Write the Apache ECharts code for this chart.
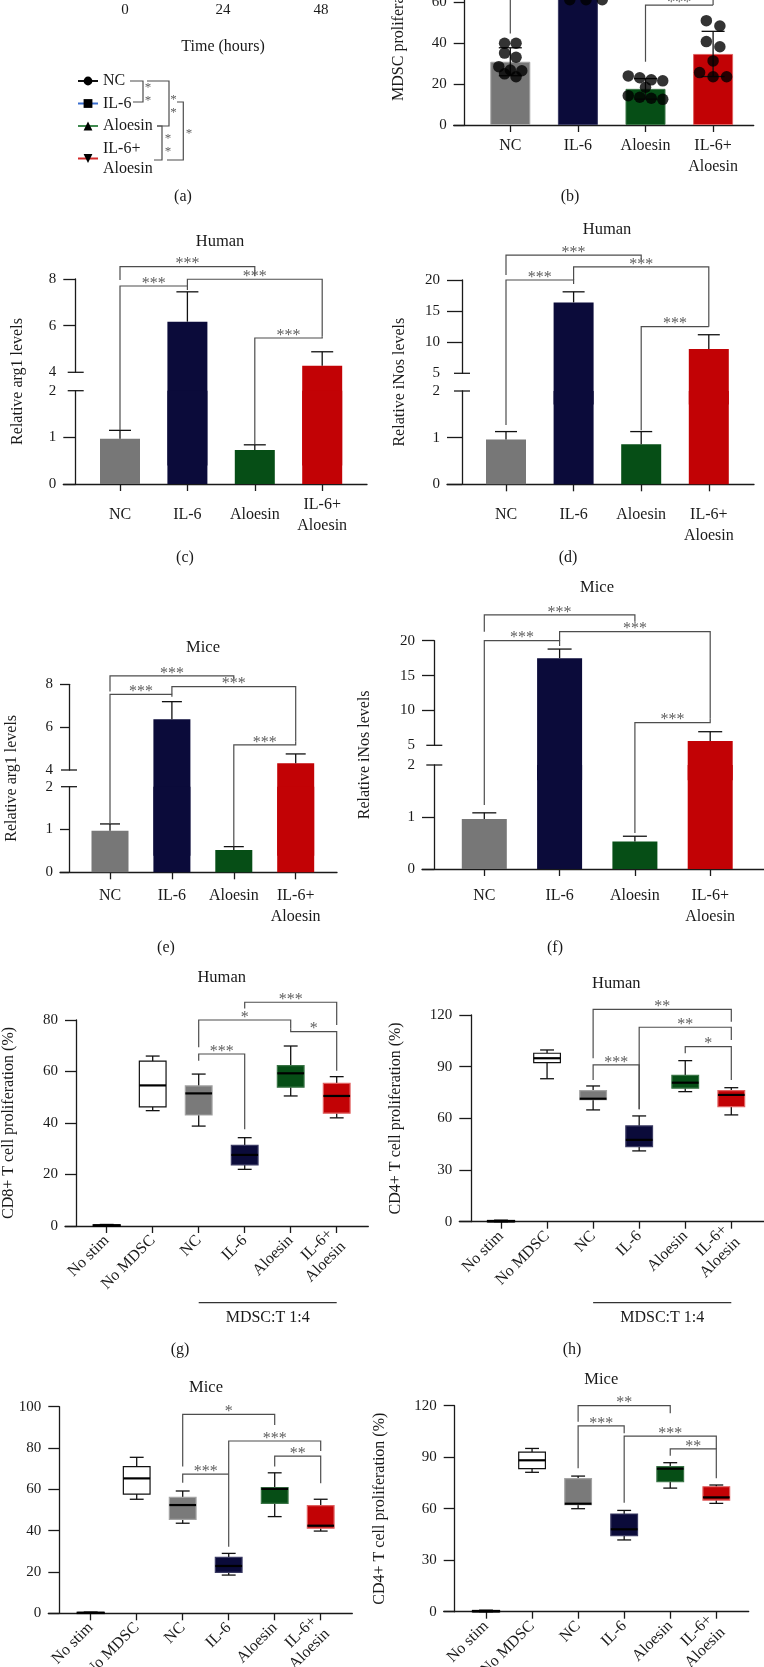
<!DOCTYPE html>
<html>
<head>
<meta charset="utf-8">
<title>Aloesin / IL-6 MDSC figure</title>
<script src="https://cdn.jsdelivr.net/npm/echarts@6.0.0/dist/echarts.min.js"></script>
<style>
html,body{margin:0;padding:0;background:#ffffff;overflow:hidden;}
#chart{width:764px;height:1667px;}
</style>
</head>
<body>
<div id="chart"></div>
<script>
// ================= DATA =================
const groups4 = ['NC', 'IL-6', 'Aloesin', 'IL-6+\nAloesin'];
const groups6 = ['No stim', 'No MDSC', 'NC', 'IL-6', 'Aloesin', 'IL-6+\nAloesin'];
const legendNames = ['NC', 'IL-6', 'Aloesin', 'IL-6+\nAloesin'];

// (a) time course (curves lie above the visible crop)
const timeTicks = [0, 24, 48];
const aNC = [0.20, 0.42, 0.78];
const aIL6 = [0.20, 0.95, 1.90];
const aAloesin = [0.20, 0.33, 0.52];
const aIL6Aloesin = [0.20, 0.60, 1.15];

// (b) MDSC proliferation (%)
const bTicks = [0, 20, 40, 60, 80, 100];
const bMean = [30.8, 72, 17.6, 34.6];
const bSD = [6.8, 9, 5, 11];
const bDotsNC = [39.8, 39.8, 35, 33, 28.4, 26.8, 26.4, 24.9, 23.5];
const bDotsIL6 = [61, 61, 61, 64, 68, 72, 76, 80, 84];
const bDotsAloesin = [23.9, 23, 22, 21.5, 18.4, 14.3, 13.5, 13, 12.5];
const bDotsIL6Aloesin = [50.8, 48.2, 40.6, 38.1, 31.2, 25.5, 23.5, 23.5];
// significance brackets: [from, to, top, left end, right end, label]
const bSig = [[2, 3, 58.4, 30.8, 58.4, '***'], [1, 3, 84, 82, 58.4, '***'], [0, 1, 95, 44.6, 92, '***']];

// (c) Human arg1
const cMean = [0.97, 6.17, 0.73, 4.28];
const cSD = [0.18, 1.28, 0.11, 0.60];
const cTicksLow = [0, 1, 2];
const cTicksHigh = [4, 6, 8];
const cSig = [[0, 2, 8.53, 7.96, 8.13, '***'], [0, 1, 7.70, 1.16, 7.53, '***'], [1, 3, 7.99, 7.70, 5.53, '***'], [2, 3, 5.47, 0.86, 5.53, '***']];

// (d) Human iNos
const dMean = [0.96, 16.4, 0.86, 8.9];
const dSD = [0.17, 1.7, 0.27, 2.3];
const dTicksLow = [0, 1, 2];
const dTicksHigh = [5, 10, 15, 20];
const dSig = [[0, 2, 24.0, 20.8, 23.2, '***'], [0, 1, 20.0, 1.27, 19.35, '***'], [1, 3, 22.1, 20.0, 12.5, '***'], [2, 3, 12.5, 1.16, 12.5, '***']];

// (e) Mice arg1
const eMean = [0.97, 6.37, 0.52, 4.31];
const eSD = [0.16, 0.82, 0.08, 0.44];
const eTicksLow = [0, 1, 2];
const eTicksHigh = [4, 6, 8];
const eSig = [[0, 2, 8.39, 7.66, 8.25, '***'], [0, 1, 7.53, 1.13, 7.42, '***'], [1, 3, 7.89, 7.53, 5.32, '***'], [2, 3, 5.17, 0.6, 5.32, '***']];

// (f) Mice iNos
const fMean = [0.96, 17.5, 0.53, 5.62];
const fSD = [0.12, 1.3, 0.10, 1.33];
const fTicksLow = [0, 1, 2];
const fTicksHigh = [5, 10, 15, 20];
const fSig = [[0, 2, 23.7, 21.3, 22.7, '***'], [0, 1, 20.0, 1.23, 19.24, '***'], [1, 3, 21.3, 20.0, 8.87, '***'], [2, 3, 8.24, 0.69, 8.87, '***']];

// box plots: [min, Q1, median, Q3, max]
const gTicks = [0, 20, 40, 60, 80];
const gBoxes = [[0, 0, 0.2, 0.4, 0.6], [44.8, 46.3, 54.6, 64, 66], [38.8, 43.1, 51.5, 54.4, 59], [22, 23.7, 27.6, 31.3, 34.3], [50.5, 53.9, 59.3, 62.3, 69.9], [42, 43.8, 50.5, 55.4, 58]];
const gSig = [[3, 5, 86.9, 84.5, 78.1, '***'], [2, 4, 80, 69.4, 76.8, '*'], [4, 5, 75.5, 76.8, 60.3, '*'], [2, 3, 66.8, 64.2, 37.6, '***']];

const hTicks = [0, 30, 60, 90, 120];
const hBoxes = [[0, 0, 0.3, 0.6, 0.9], [83, 92.3, 94.9, 97.8, 99.7], [64.9, 70.8, 71.4, 76.1, 78.8], [41.1, 43.6, 47.5, 55.6, 61.4], [75.5, 77.5, 80.7, 85, 93.5], [62, 66.8, 73.6, 76.1, 77.8]];
const hSig = [[2, 5, 123.3, 94.9, 116.1, '**'], [3, 5, 112.9, 65.3, 105.5, '**'], [4, 5, 101.6, 97.8, 82.3, '*'], [2, 3, 91, 82.3, 65.3, '***']];

const iTicks = [0, 20, 40, 60, 80, 100];
const iBoxes = [[0, 0, 0.2, 0.4, 0.6], [55.2, 57.7, 65.3, 71, 75.5], [43.6, 45.5, 52.4, 56.1, 59.2], [18.5, 19.8, 22.9, 27.1, 29], [46.8, 53.2, 60.2, 60.8, 68], [39.8, 41.2, 42.4, 52.1, 55.2]];
const iSig = [[2, 4, 96.3, 71, 91.1, '*'], [3, 5, 83.4, 32.2, 78.6, '***'], [4, 5, 76.1, 71, 62.9, '**'], [2, 3, 67.4, 63.2, 67.4, '***']];

const jTicks = [0, 30, 60, 90, 120];
const jBoxes = [[0, 0, 0.3, 0.6, 0.9], [81.2, 83.3, 88.2, 93, 95.1], [60, 62.3, 62.9, 77.5, 79], [41.8, 44.3, 48, 56.9, 59], [72, 75.7, 83.3, 84.5, 86.8], [63.1, 65, 66.6, 72.8, 73.8]];
const jSig = [[2, 4, 120, 110.7, 115.6, '**'], [2, 3, 108.2, 83.5, 103.9, '***'], [3, 5, 102.3, 63.5, 94.8, '***'], [4, 5, 94.8, 90.9, 77.7, '**']];

// ================= STYLE / LAYOUT =================
const FONT = '"Liberation Serif","Times New Roman",serif';
const AX = '#1a1a1a';
const TXT = '#1a1a1a';
const BRK = '#4d4d4d';
const STAR = '#5e5e5e';
const BAR_FILL = ['#777777', '#0b0b3a', '#064e16', '#c20205'];
const BAR_EDGE = ['#a3a3a3', '#3b3b63', '#3a7446', '#e06060'];
const BOX_FILL = ['#000000', '#ffffff', '#7a7a7a', '#0b0b3a', '#064e16', '#c20205'];
const BOX_EDGE = ['#000000', '#111111', '#a3a3a3', '#3b3b63', '#3a7446', '#e06060'];
const LINE_COL = ['#111111', '#3a6fd0', '#3f8a4f', '#d42a2a'];

const P = {
  b: {axStart: 453.7, yAx: 464.7, cat0: 510.3, step: 67.6, axEnd: 753.7, y0: 125, yTop: -80.4, barW: 40, cap: 23, lblMargin: 10},
  c: {axStart: 63.3, yAx: 75.7, cat0: 120, step: 67.4, axEnd: 367, lo: [484, 390.7], up: [372.3, 279], barW: 40, cap: 22, lblMargin: 31, lblMiddle: true},
  d: {axStart: 447, yAx: 462, cat0: 506, step: 67.6, axEnd: 754, lo: [484.3, 391], up: [373.3, 280], barW: 40, cap: 22, lblMargin: 20},
  e: {axStart: 60, yAx: 69, cat0: 110, step: 61.9, axEnd: 337, lo: [872.3, 786.7], up: [770, 684.3], barW: 37, cap: 20, lblMargin: 13},
  f: {axStart: 422, yAx: 434.3, cat0: 484.3, step: 75.3, axEnd: 770, lo: [869, 765], up: [745.3, 640.7], barW: 45, cap: 24, lblMargin: 16},
  g: {axStart: 65, yAx: 76.7, cat0: 106.7, step: 46, axEnd: 368.3, y0: 1226, yTop: 1020, boxW: 26.7, lblMargin: 12},
  h: {axStart: 459.3, yAx: 471, cat0: 501, step: 46.06, axEnd: 770, y0: 1221.7, yTop: 1015, boxW: 26.7, lblMargin: 12},
  i: {axStart: 48.3, yAx: 59.3, cat0: 90.7, step: 46, axEnd: 352.3, y0: 1613.3, yTop: 1406.7, boxW: 26.7, lblMargin: 12},
  j: {axStart: 443.7, yAx: 454.7, cat0: 486, step: 46.06, axEnd: 748.7, y0: 1611.7, yTop: 1405.7, boxW: 26.7, lblMargin: 12}
};

const chart = echarts.init(document.getElementById('chart'), null, {width: 764, height: 1667, renderer: 'canvas'});
const grids = [], xAxes = [], yAxes = [], series = [];

function addGrid(left, top, width, height) {
  grids.push({left: left, top: top, width: width, height: height, containLabel: false, outerBoundsMode: 'none', show: false});
  return grids.length - 1;
}
function catXAxis(gi, L, cats, visible, extra) {
  const idx = cats.map((c, i) => i);
  xAxes.push({
    type: 'value', gridIndex: gi, show: visible,
    min: (L.axStart - L.cat0) / L.step, max: (L.axEnd - L.cat0) / L.step,
    axisLine: {show: true, onZero: false, lineStyle: {color: AX, width: 1.3}},
    axisTick: {show: true, customValues: idx, length: 7, lineStyle: {color: AX, width: 1.3}},
    axisLabel: Object.assign({show: true, customValues: idx, formatter: (v) => cats[Math.round(v)],
      color: TXT, fontFamily: FONT, fontSize: 16, lineHeight: 21, margin: L.lblMargin}, extra || {}),
    splitLine: {show: false}
  });
}
function valYAxis(gi, L, min, max, labels, ticks) {
  const tl = L.yAx - L.axStart;
  yAxes.push({
    type: 'value', gridIndex: gi, min: min, max: max, offset: -tl,
    axisLine: {show: true, onZero: false, lineStyle: {color: AX, width: 1.3}},
    axisTick: {show: true, customValues: ticks, length: tl, lineStyle: {color: AX, width: 1.3}},
    axisLabel: {show: true, customValues: labels, color: TXT, fontFamily: FONT, fontSize: 15, margin: tl + 7},
    splitLine: {show: false}
  });
}
// o: {clip, z, above (only values above this), border}
function barSeries(gi, L, mean, o) {
  o = o || {};
  const items = [];
  mean.forEach((v, i) => {
    if (o.above !== undefined && v <= o.above) return;
    items.push({value: [i, v], itemStyle: {color: BAR_FILL[i], borderColor: BAR_EDGE[i], borderWidth: o.border === false ? 0 : 1}});
  });
  return {type: 'bar', xAxisIndex: gi, yAxisIndex: gi, barWidth: L.barW, clip: o.clip !== false, silent: true, z: o.z || 2, data: items};
}
function errSeries(gi, L, items, both) {
  return {type: 'custom', xAxisIndex: gi, yAxisIndex: gi, silent: true, z: 3, data: items,
    renderItem: function (params, api) {
      const x = api.value(0), m = api.value(1), s = api.value(2);
      const pm = api.coord([x, m]), pt = api.coord([x, m + s]), pb = api.coord([x, m - s]);
      const h = L.cap / 2, st = {stroke: '#111', lineWidth: 1.3};
      const ch = [
        {type: 'line', shape: {x1: pm[0], y1: both ? pb[1] : pm[1], x2: pt[0], y2: pt[1]}, style: st},
        {type: 'line', shape: {x1: pt[0] - h, y1: pt[1], x2: pt[0] + h, y2: pt[1]}, style: st}
      ];
      if (both) ch.push({type: 'line', shape: {x1: pb[0] - h, y1: pb[1], x2: pb[0] + h, y2: pb[1]}, style: st});
      return {type: 'group', children: ch};
    }};
}
function boxSeries(gi, L, boxes) {
  return {type: 'custom', xAxisIndex: gi, yAxisIndex: gi, silent: true, z: 3,
    data: boxes.map((b, i) => [i].concat(b)),
    renderItem: function (params, api) {
      const x = api.value(0), ci = Math.round(x);
      const c = (k) => api.coord([x, api.value(k)]);
      const pMin = c(1), pQ1 = c(2), pMed = c(3), pQ3 = c(4), pMax = c(5);
      const cx = pMin[0], hw = L.boxW / 2, cw = hw * 0.52;
      const wl = {stroke: '#111', lineWidth: 1.3};
      return {type: 'group', children: [
        {type: 'line', shape: {x1: cx, y1: pMax[1], x2: cx, y2: pQ3[1]}, style: wl},
        {type: 'line', shape: {x1: cx, y1: pQ1[1], x2: cx, y2: pMin[1]}, style: wl},
        {type: 'line', shape: {x1: cx - cw, y1: pMax[1], x2: cx + cw, y2: pMax[1]}, style: wl},
        {type: 'line', shape: {x1: cx - cw, y1: pMin[1], x2: cx + cw, y2: pMin[1]}, style: wl},
        {type: 'rect', shape: {x: cx - hw, y: pQ3[1], width: 2 * hw, height: Math.max(pQ1[1] - pQ3[1], 0.5)},
          style: {fill: BOX_FILL[ci], stroke: BOX_EDGE[ci], lineWidth: ci === 0 ? 1.6 : 1.2}},
        {type: 'line', shape: {x1: cx - hw, y1: pMed[1], x2: cx + hw, y2: pMed[1]}, style: {stroke: '#000', lineWidth: 2.2}}
      ]};
    }};
}
// dots arranged in rows (beeswarm-like) around each category
function swarm(values, idx, stepX, span) {
  const sorted = values.slice().sort((a, b) => b - a);
  const out = []; let row = [];
  const flush = () => { row.forEach((v, k) => out.push([idx + (k - (row.length - 1) / 2) * stepX, v])); row = []; };
  sorted.forEach((v) => { if (row.length && (row[0] - v > span || row.length >= 4)) flush(); row.push(v); });
  flush();
  return out;
}

// ---------- (a) ----------
const ga = addGrid(125, -300, 196, 297);
xAxes.push({type: 'value', gridIndex: ga, min: 0, max: 48, interval: 24,
  axisLine: {show: true, onZero: false, lineStyle: {color: AX, width: 1.3}}, axisTick: {show: false},
  axisLabel: {customValues: timeTicks, color: TXT, fontFamily: FONT, fontSize: 15, margin: 6},
  splitLine: {show: false},
  name: 'Time (hours)', nameLocation: 'middle', nameGap: 42,
  nameTextStyle: {color: TXT, fontFamily: FONT, fontSize: 16}});
yAxes.push({type: 'value', gridIndex: ga, show: false, min: 0, max: 2.2});
const aSeries = [aNC, aIL6, aAloesin, aIL6Aloesin];
const aSymbols = ['circle', 'rect', 'triangle', 'triangle'];
aSeries.forEach((arr, k) => {
  series.push({type: 'line', name: legendNames[k], xAxisIndex: ga, yAxisIndex: ga,
    data: timeTicks.map((t, i) => [t, arr[i]]),
    symbol: aSymbols[k], symbolRotate: k === 3 ? 180 : 0, symbolSize: 9,
    itemStyle: {color: '#000'}, lineStyle: {color: LINE_COL[k], width: 1.4}});
});

// ---------- (b) ----------
const gb = addGrid(P.b.axStart, P.b.yTop, P.b.axEnd - P.b.axStart, P.b.y0 - P.b.yTop);
catXAxis(gb, P.b, groups4, true);
valYAxis(gb, P.b, 0, 100, bTicks, bTicks);
series.push(barSeries(gb, P.b, bMean));
series.push(errSeries(gb, P.b, bMean.map((m, i) => [i, m, bSD[i]]), true));
series.push({type: 'scatter', xAxisIndex: gb, yAxisIndex: gb, symbolSize: 11.5, silent: true, z: 4,
  itemStyle: {color: '#000'},
  data: [].concat(swarm(bDotsNC, 0, 0.17, 3), swarm(bDotsIL6, 1, 0.24, 3), swarm(bDotsAloesin, 2, 0.17, 3), swarm(bDotsIL6Aloesin, 3, 0.2, 3))});

// ---------- (c)-(f) broken axis bar charts ----------
function brokenPanel(L, mean, sd, lowT, highT) {
  const w = L.axEnd - L.axStart;
  const lo = addGrid(L.axStart, L.lo[1], w, L.lo[0] - L.lo[1]);
  catXAxis(lo, L, groups4, true, L.lblMiddle ? {verticalAlign: 'middle'} : null);
  valYAxis(lo, L, lowT[0], lowT[lowT.length - 1], lowT, lowT.slice(0, -1));
  const up = addGrid(L.axStart, L.up[1], w, L.up[0] - L.up[1]);
  catXAxis(up, L, groups4, false);
  valYAxis(up, L, highT[0], highT[highT.length - 1], highT, highT.slice(1));
  const loMax = lowT[lowT.length - 1];
  // upper part: tall bars only, not clipped below so they run through the break
  series.push(barSeries(up, L, mean, {above: loMax, clip: false, z: 1, border: false}));
  // lower part: clipped at the top of the lower segment, drawn over the upper bars
  series.push(barSeries(lo, L, mean, {clip: true, z: 2, border: false}));
  series.push(errSeries(lo, L, mean.map((m, i) => [i, m, sd[i]]).filter((d) => d[1] <= loMax), false));
  series.push(errSeries(up, L, mean.map((m, i) => [i, m, sd[i]]).filter((d) => d[1] > loMax), false));
  L.loGrid = lo; L.upGrid = up; L.loMax = loMax;
}
brokenPanel(P.c, cMean, cSD, cTicksLow, cTicksHigh);
brokenPanel(P.d, dMean, dSD, dTicksLow, dTicksHigh);
brokenPanel(P.e, eMean, eSD, eTicksLow, eTicksHigh);
brokenPanel(P.f, fMean, fSD, fTicksLow, fTicksHigh);

// ---------- (g)-(j) box plots ----------
function boxPanel(L, boxes, ticks) {
  const gi = addGrid(L.axStart, L.yTop, L.axEnd - L.axStart, L.y0 - L.yTop);
  catXAxis(gi, L, groups6, true, {rotate: 45, lineHeight: 18});
  valYAxis(gi, L, ticks[0], ticks[ticks.length - 1], ticks, ticks);
  series.push(boxSeries(gi, L, boxes));
  L.grid = gi;
}
boxPanel(P.g, gBoxes, gTicks);
boxPanel(P.h, hBoxes, hTicks);
boxPanel(P.i, iBoxes, iTicks);
boxPanel(P.j, jBoxes, jTicks);

chart.setOption({
  animation: false,
  backgroundColor: '#ffffff',
  textStyle: {fontFamily: FONT},
  grid: grids, xAxis: xAxes, yAxis: yAxes, series: series,
  legend: {data: legendNames, orient: 'vertical', left: 77, top: 71, padding: 0, itemGap: 2.5,
    itemWidth: 20, itemHeight: 11, selectedMode: false,
    textStyle: {color: TXT, fontFamily: FONT, fontSize: 16, lineHeight: 20}}
});

// ================= ANNOTATIONS (placed through the axes) =================
const G = [];
function txt(x, y, s, size, fill, rot) {
  G.push({type: 'text', x: x, y: y, rotation: rot || 0, silent: true, z: 10,
    style: {text: s, fontSize: size, fontFamily: FONT, fill: fill || TXT,
      align: 'center', verticalAlign: 'middle', textAlign: 'center', textVerticalAlign: 'middle'}});
}
function seg(x1, y1, x2, y2, color, w) {
  G.push({type: 'line', silent: true, z: 10, shape: {x1: x1, y1: y1, x2: x2, y2: y2}, style: {stroke: color || BRK, lineWidth: w || 1.2}});
}
function poly(pts, color, w) {
  G.push({type: 'polyline', silent: true, z: 10, shape: {points: pts}, style: {stroke: color || BRK, lineWidth: w || 1.2, fill: null}});
}
function drawSig(sig, toPx) {
  sig.forEach((s) => {
    const a = s[0], b = s[1];
    const pA = toPx(a, s[2]), pB = toPx(b, s[2]), pAe = toPx(a, s[3]), pBe = toPx(b, s[4]);
    poly([[pAe[0], pAe[1]], [pA[0], pA[1]], [pB[0], pB[1]], [pBe[0], pBe[1]]]);
    txt((pA[0] + pB[0]) / 2, pA[1] - 2.5, s[5], 16, STAR);
  });
}
const gridPx = (gi) => (x, v) => chart.convertToPixel({gridIndex: gi}, [x, v]);
const brokenPx = (L) => (x, v) => chart.convertToPixel({gridIndex: v <= L.loMax ? L.loGrid : L.upGrid}, [x, v]);

// legend significance brackets of (a)
poly([[130, 81], [143, 81], [143, 102], [133, 102]]); txt(148, 94, '*\n*', 13, STAR);
poly([[147, 81], [169, 81], [169, 126], [157, 126]]); txt(173.5, 106, '*\n*', 13, STAR);
poly([[157, 126], [162, 126], [162, 160], [154, 160]]); txt(168, 145, '*\n*', 13, STAR);
poly([[177, 102], [183.3, 102], [183.3, 160], [167, 160]]); txt(189, 134, '*', 13, STAR);

// (b)
drawSig(bSig, gridPx(gb));
txt(398.7, (P.b.y0 + P.b.yTop) / 2, 'MDSC proliferation (%)', 16, TXT, Math.PI / 2);

// broken panels
[['c', cSig, 'Relative arg1 levels', 18, 'Human', 220, 242, '(c)', 185, 558],
 ['d', dSig, 'Relative iNos levels', 400, 'Human', 607, 230, '(d)', 568, 558],
 ['e', eSig, 'Relative arg1 levels', 12, 'Mice', 203, 648, '(e)', 166, 948],
 ['f', fSig, 'Relative iNos levels', 365, 'Mice', 597, 588, '(f)', 555, 948]].forEach((r) => {
  const L = P[r[0]];
  drawSig(r[1], brokenPx(L));
  seg(L.yAx - 8, L.lo[1], L.yAx + 8, L.lo[1], AX, 1.3);
  seg(L.yAx - 8, L.up[0], L.yAx + 8, L.up[0], AX, 1.3);
  txt(r[3], (L.lo[0] + L.up[1]) / 2, r[2], 16, TXT, Math.PI / 2);
  txt(r[5], r[6], r[4], 16.5);
  txt(r[8], r[9], r[7], 16);
});

// box panels
[['g', gSig, 'CD8+ T cell proliferation (%)', 9, 'Human', 221.7, 977.3],
 ['h', hSig, 'CD4+ T cell proliferation (%)', 396, 'Human', 616.3, 983.3],
 ['i', iSig, null, 0, 'Mice', 206, 1387.7],
 ['j', jSig, 'CD4+ T cell proliferation (%)', 380, 'Mice', 601.3, 1379.3]].forEach((r) => {
  const L = P[r[0]];
  drawSig(r[1], gridPx(L.grid));
  if (r[2]) txt(r[3], (L.y0 + L.yTop) / 2, r[2], 16, TXT, Math.PI / 2);
  txt(r[5], r[6], r[4], 16.5);
});
// MDSC:T 1:4 group lines
[['g', '(g)', 180], ['h', '(h)', 572]].forEach((r) => {
  const L = P[r[0]];
  const p2 = chart.convertToPixel({gridIndex: L.grid}, [2, 0]);
  const p5 = chart.convertToPixel({gridIndex: L.grid}, [5, 0]);
  seg(p2[0], 1302.7, p5[0], 1302.7, '#333', 1.3);
  txt((p2[0] + p5[0]) / 2, 1317.3, 'MDSC:T 1:4', 16);
  txt(r[2], 1349.3, r[1], 16);
});
txt(183, 197, '(a)', 16);
txt(570, 197, '(b)', 16);

chart.setOption({graphic: G});
</script>
</body>
</html>
